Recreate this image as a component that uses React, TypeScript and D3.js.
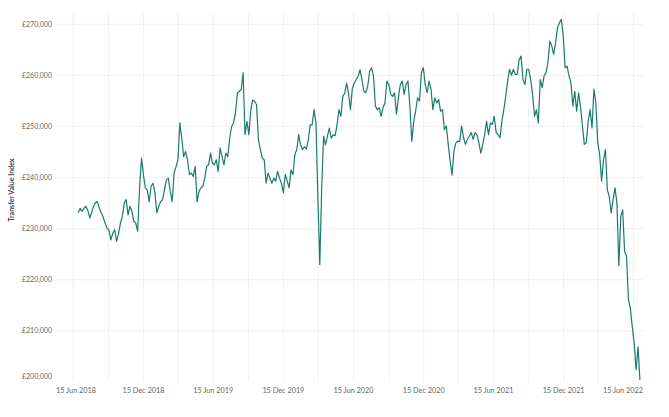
import React from "react";
import * as d3 from "d3";

// Series: Transfer Value Index (in £ thousands), sampled every 5 days from 28 Jun 2018
const START_DATE = "2018-06-28";
const STEP_DAYS = 5;
const valuesK: number[] = [
  233.1, 234.0, 233.4, 234.0, 234.4, 233.6, 232.1, 233.2, 234.4, 235.1,
  235.3, 234.0, 233.1, 232.3, 231.1, 230.1, 229.7, 227.8, 229.1, 229.8,
  227.5, 229.0, 231.1, 232.4, 235.0, 235.7, 232.7, 234.4, 233.4, 231.4,
  231.1, 229.5, 238.0, 243.8, 240.6, 238.0, 237.6, 235.3, 238.3, 238.9,
  237.0, 233.1, 234.4, 235.3, 235.7, 237.6, 239.6, 239.9, 237.3, 235.3,
  240.9, 242.1, 243.5, 250.7, 247.7, 244.1, 245.1, 243.5, 240.6, 240.9,
  240.2, 242.2, 235.3, 237.3, 238.0, 238.3, 239.9, 242.2, 242.5, 244.8,
  242.8, 242.5, 243.5, 241.2,
  245.8, 244.1, 242.5, 244.8, 244.1, 247.7,
  250.0, 250.7, 252.6, 256.5, 256.9, 257.2, 260.5, 248.4, 251.0, 248.4,
  253.3, 255.2, 254.9, 254.3, 247.4, 245.5, 243.8, 243.5, 238.9, 240.9,
  239.9, 238.9, 239.9, 239.3, 241.2, 239.9, 238.9, 237.0, 240.6, 239.3,
  238.0, 241.5, 240.6, 244.5, 245.5, 248.4, 246.4, 245.5, 246.0, 245.6,
  247.4, 250.3, 250.3, 253.3, 250.7, 236.0, 223.0, 238.0, 248.1, 246.4,
  248.1, 249.7, 247.7, 248.4, 248.2, 250.3, 253.3, 252.0, 255.9, 256.5,
  258.5, 256.5, 253.3, 257.5, 258.5, 259.2, 259.8, 261.1, 259.2, 256.9,
  256.6, 257.9, 260.8, 261.5, 259.9, 254.0, 253.3, 253.7, 252.0, 253.7,
  254.6, 258.9, 258.2, 256.3, 255.9, 256.6, 252.4, 255.6, 258.2, 258.9,
  256.3, 258.2, 258.9, 254.0, 247.1, 251.0, 253.0, 255.6, 255.0, 260.5,
  261.5, 258.2, 256.6, 258.9, 257.3, 253.3, 255.6, 254.6, 255.3, 253.0,
  253.3, 249.4, 250.1, 246.5, 243.2, 240.5, 245.2, 246.8, 247.1, 247.1,
  250.1, 247.8, 246.5, 247.5, 248.1, 248.8, 247.5, 248.8, 248.4, 246.8,
  244.8, 246.5, 248.4, 251.0, 248.4, 250.7, 250.4, 252.0, 248.8, 248.4,
  247.8, 251.0, 253.3, 255.9, 258.9, 261.2,
  260.0, 261.2, 260.2, 260.2,
  263.1, 263.8, 259.2, 258.2, 261.2, 261.2, 259.2, 256.3, 252.0, 253.3,
  250.7, 259.2, 257.6, 259.9, 260.5, 262.5, 266.7, 265.8, 264.1, 266.4,
  269.3, 270.3, 271.0, 267.7, 261.5, 261.8, 259.9, 258.6, 254.0, 256.9,
  253.0, 256.6, 254.0, 250.1, 246.5, 246.8, 251.0, 253.3, 249.7, 257.3,
  254.6, 246.8, 244.5, 239.3, 243.5, 245.5, 237.6, 236.3, 233.1, 235.7,
  238.0, 235.0, 222.8, 232.4, 233.7, 225.6, 224.6, 216.1, 214.4, 210.8,
  207.6, 202.4, 206.9, 200.4,
];

const yTickValues = [200000, 210000, 220000, 230000, 240000, 250000, 260000, 270000];
const gridDateStrings = [
  "2018-06-15", "2018-09-15", "2018-12-15", "2019-03-15", "2019-06-15",
  "2019-09-15", "2019-12-15", "2020-03-15", "2020-06-15", "2020-09-15",
  "2020-12-15", "2021-03-15", "2021-06-15", "2021-09-15", "2021-12-15",
  "2022-03-15", "2022-06-15",
];
const labelDateStrings = [
  "2018-06-15", "2018-12-15", "2019-06-15", "2019-12-15", "2020-06-15",
  "2020-12-15", "2021-06-15", "2021-12-15", "2022-06-15",
];
const yTitle = "Transfer Value Index";

export default function App() {
  const W = 669;
  const H = 417;
  const left = 56;
  const right = 643;
  const top = 13;
  const bottom = 382;

  const parse = d3.utcParse("%Y-%m-%d");
  const x = d3
    .scaleUtc()
    .domain([parse("2018-05-01")!, parse("2022-07-10")!])
    .range([left, right]);
  const y = d3.scaleLinear().domain([200000, 270000]).range([bottom, 24.3]);

  const start = parse(START_DATE)!;
  const data = valuesK.map((v, i) => ({
    date: d3.utcDay.offset(start, i * STEP_DAYS),
    value: v * 1000,
  }));

  const line = d3
    .line<{ date: Date; value: number }>()
    .x((d) => x(d.date))
    .y((d) => y(d.value));

  const fmtDate = d3.utcFormat("%d %b %Y");
  const fmtMoney = (v: number) => "£" + d3.format(",")(v);
  const font = "Lato, 'Open Sans', sans-serif";
  const labelHalf = 19.5;

  return (
    <svg
      width={W}
      height={H}
      style={{ position: "absolute", left: 0, top: 0, background: "#fff" }}
      fontFamily={font}
    >
      {/* horizontal gridlines */}
      {yTickValues
        .filter((v) => v > 200000)
        .map((v) => (
          <line
            key={"hg" + v}
            x1={left}
            x2={right}
            y1={y(v)}
            y2={y(v)}
            stroke="#f0f0f0"
            strokeWidth={1}
          />
        ))}
      {/* vertical gridlines */}
      {gridDateStrings.map((s) => {
        const gx = x(parse(s)!);
        return (
          <line
            key={"vg" + s}
            x1={gx}
            x2={gx}
            y1={top}
            y2={bottom}
            stroke="#f0f0f0"
            strokeWidth={1}
          />
        );
      })}
      {/* y labels */}
      {yTickValues.map((v) => {
        const cy = Math.min(y(v), 376);
        return (
          <text
            key={"yl" + v}
            x={52}
            y={cy + 2.5}
            textAnchor="end"
            fontSize={7}
            fill="#5f6b68"
          >
            {fmtMoney(v)}
          </text>
        );
      })}
      {/* x labels */}
      {labelDateStrings.map((s) => {
        const d = parse(s)!;
        const cx = x(d);
        let anchor: "start" | "middle" | "end" = "middle";
        let tx = cx;
        if (cx - labelHalf < left) {
          anchor = "start";
          tx = left;
        } else if (cx + labelHalf > right) {
          anchor = "end";
          tx = right;
        }
        return (
          <text
            key={"xl" + s}
            x={tx}
            y={393}
            textAnchor={anchor}
            fontSize={7.3}
            fill="#666"
          >
            {fmtDate(d)}
          </text>
        );
      })}
      {/* y title */}
      <text
        transform={`translate(13.5,190) rotate(-90)`}
        textAnchor="middle"
        fontSize={7}
        fontWeight={700}
        fill="#444"
      >
        {yTitle}
      </text>
      {/* line */}
      <path
        d={line(data) ?? ""}
        fill="none"
        stroke="#1b7a6c"
        strokeWidth={1.2}
        strokeLinejoin="round"
      />
    </svg>
  );
}
